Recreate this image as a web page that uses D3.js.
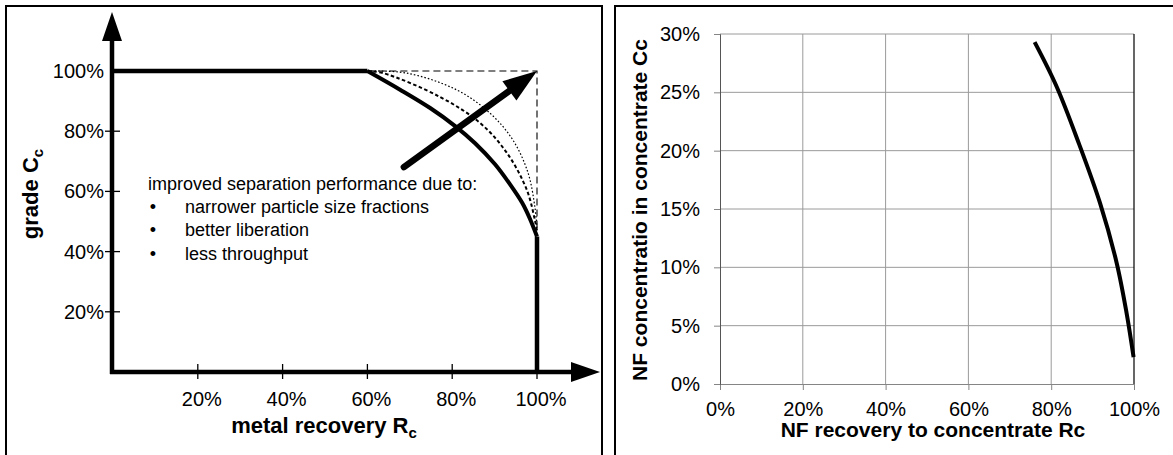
<!DOCTYPE html>
<html>
<head>
<meta charset="utf-8">
<script src="https://cdn.jsdelivr.net/npm/d3@7/dist/d3.min.js"></script>
<style>
  html, body { margin: 0; padding: 0; background: #fff; }
  svg { display: block; font-family: "Liberation Sans", Arial, sans-serif; }
</style>
</head>
<body>
<svg id="chart" width="1173" height="455"></svg>
<script>
// ---- Left panel: schematic grade–recovery curve ----
const gradeTicks = [0.2, 0.4, 0.6, 0.8, 1.0];
const recoveryTicks = [0.2, 0.4, 0.6, 0.8, 1.0];

// current separation frontier (solid)
const frontierRc = [0.60, 0.677, 0.748, 0.807, 0.854, 0.901, 0.936, 0.965, 0.983, 1.0];
const frontierCc = [1.00, 0.938, 0.877, 0.817, 0.760, 0.690, 0.624, 0.562, 0.510, 0.45];
// improved frontier, first step (dashed)
const improvedARc = [0.60, 0.637, 0.771, 0.866, 0.929, 0.976, 0.995, 1.0];
const improvedACc = [1.00, 0.993, 0.914, 0.827, 0.728, 0.605, 0.505, 0.47];
// improved frontier, second step (dotted)
const improvedBRc = [0.60, 0.693, 0.811, 0.889, 0.943, 0.979, 0.995, 1.0];
const improvedBCc = [1.00, 0.993, 0.937, 0.860, 0.771, 0.661, 0.548, 0.48];
// ideal separation corner (dashed box)
const idealRc = [0.60, 1.0, 1.0];
const idealCc = [1.00, 1.0, 0.47];
// direction of improvement arrow: tail, tip
const arrowRc = [0.686, 1.0];
const arrowCc = [0.681, 1.0];

const noteLines = ["narrower particle size fractions", "better liberation", "less throughput"];

// ---- Right panel: NF grade vs recovery ----
const nfRecovery = [0.760, 0.813, 0.867, 0.918, 0.958, 0.982, 0.999];
const nfConcentration = [0.293, 0.255, 0.206, 0.155, 0.104, 0.061, 0.023];
const nfXTicks = [0, 0.2, 0.4, 0.6, 0.8, 1.0];
const nfYTicks = [0, 0.05, 0.10, 0.15, 0.20, 0.25, 0.30];

const svg = d3.select("#chart");
const pct = d3.format(".0%");
const zip = (a, b) => a.map((v, i) => [v, b[i]]);

// panel frames
svg.append("rect").attr("x", 6).attr("y", 6).attr("width", 596).attr("height", 470)
  .attr("fill", "none").attr("stroke", "#000").attr("stroke-width", 2);
svg.append("rect").attr("x", 615).attr("y", 6).attr("width", 580).attr("height", 470)
  .attr("fill", "none").attr("stroke", "#000").attr("stroke-width", 2);

// ================= LEFT PANEL =================
const xL = d3.scaleLinear().domain([0, 1]).range([113, 537]);
const yL = d3.scaleLinear().domain([0, 1]).range([372, 71]);
const L = svg.append("g");

// tick marks crossing the axes
L.selectAll("line.ytick").data(gradeTicks.filter(d => d < 1)).join("line")
  .attr("x1", xL(0) - 8).attr("x2", xL(0) + 7)
  .attr("y1", d => yL(d)).attr("y2", d => yL(d))
  .attr("stroke", "#000").attr("stroke-width", 1.3);
L.selectAll("line.xtick").data(recoveryTicks).join("line")
  .attr("x1", d => xL(d)).attr("x2", d => xL(d))
  .attr("y1", yL(0) - 8).attr("y2", yL(0) + 7)
  .attr("stroke", "#000").attr("stroke-width", 1.3);

// tick labels
L.selectAll("text.ylab").data(gradeTicks).join("text")
  .attr("x", xL(0) - 9).attr("y", d => yL(d)).attr("dy", "0.35em")
  .attr("text-anchor", "end").attr("font-size", 20).text(d => pct(d));
L.selectAll("text.xlab").data(recoveryTicks).join("text")
  .attr("x", d => xL(d) + 4).attr("y", 406)
  .attr("text-anchor", "middle").attr("font-size", 20).text(d => pct(d));

// ideal corner (dashed box)
L.append("path")
  .attr("d", d3.line().x(d => xL(d[0])).y(d => yL(d[1]))(zip(idealRc, idealCc)))
  .attr("fill", "none").attr("stroke", "#000").attr("stroke-width", 1.1)
  .attr("stroke-dasharray", "7,4");

const curve = d3.line().x(d => xL(d[0])).y(d => yL(d[1])).curve(d3.curveCatmullRom.alpha(0.5));

L.append("path").attr("d", curve(zip(improvedBRc, improvedBCc)))
  .attr("fill", "none").attr("stroke", "#000").attr("stroke-width", 1.2)
  .attr("stroke-dasharray", "1.6,2");
L.append("path").attr("d", curve(zip(improvedARc, improvedACc)))
  .attr("fill", "none").attr("stroke", "#000").attr("stroke-width", 2)
  .attr("stroke-dasharray", "3.5,2.5");

// current frontier: plateau, curve, vertical drop
L.append("line").attr("x1", xL(0)).attr("x2", xL(frontierRc[0]))
  .attr("y1", yL(frontierCc[0])).attr("y2", yL(frontierCc[0]))
  .attr("stroke", "#000").attr("stroke-width", 4.5);
L.append("path").attr("d", curve(zip(frontierRc, frontierCc)))
  .attr("fill", "none").attr("stroke", "#000").attr("stroke-width", 4)
  .attr("stroke-linejoin", "round");
L.append("line")
  .attr("x1", xL(frontierRc[frontierRc.length - 1])).attr("x2", xL(frontierRc[frontierRc.length - 1]))
  .attr("y1", yL(frontierCc[frontierCc.length - 1])).attr("y2", yL(0))
  .attr("stroke", "#000").attr("stroke-width", 4.5);

// axes with arrow heads
L.append("line").attr("x1", xL(0) - 1).attr("x2", xL(0) - 1).attr("y1", yL(0) + 2).attr("y2", 30)
  .attr("stroke", "#000").attr("stroke-width", 4.5);
L.append("path").attr("d", `M${xL(0) - 1},12 L${xL(0) - 11},41 L${xL(0) + 9},41 Z`).attr("fill", "#000");
L.append("line").attr("x1", xL(0) - 3).attr("x2", 585).attr("y1", yL(0)).attr("y2", yL(0))
  .attr("stroke", "#000").attr("stroke-width", 4.5);
L.append("path").attr("d", `M600,${yL(0)} L571,${yL(0) - 10} L571,${yL(0) + 10} Z`).attr("fill", "#000");

// improvement arrow
{
  const x0 = xL(arrowRc[0]), y0 = yL(arrowCc[0]);
  const x1 = xL(arrowRc[1]), y1 = yL(arrowCc[1]);
  const len = Math.hypot(x1 - x0, y1 - y0);
  const ux = (x1 - x0) / len, uy = (y1 - y0) / len;
  const head = 34, half = 12;
  const bx = x1 - ux * head, by = y1 - uy * head;
  L.append("line").attr("x1", x0).attr("y1", y0).attr("x2", bx + ux * 2).attr("y2", by + uy * 2)
    .attr("stroke", "#000").attr("stroke-width", 6.5).attr("stroke-linecap", "round");
  L.append("path")
    .attr("d", `M${x1},${y1} L${bx - uy * half},${by + ux * half} L${bx + uy * half},${by - ux * half} Z`)
    .attr("fill", "#000");
}

// annotation
L.append("text").attr("x", 148).attr("y", 190).attr("font-size", 18)
  .text("improved separation performance due to:");
noteLines.forEach((t, i) => {
  L.append("text").attr("x", 153).attr("y", 213 + i * 23.3).attr("font-size", 18)
    .attr("text-anchor", "middle").text("•");
  L.append("text").attr("x", 185).attr("y", 213 + i * 23.3).attr("font-size", 18).text(t);
});

// axis titles
const xt = L.append("text").attr("x", 324).attr("y", 433).attr("text-anchor", "middle")
  .attr("font-size", 22).attr("font-weight", "bold");
xt.append("tspan").text("metal recovery R");
xt.append("tspan").attr("font-size", 15).attr("dy", 5).text("c");
const yt = L.append("text").attr("transform", "translate(38,194) rotate(-90)")
  .attr("text-anchor", "middle").attr("font-size", 22).attr("font-weight", "bold");
yt.append("tspan").text("grade C");
yt.append("tspan").attr("font-size", 15).attr("dy", 5).text("c");

// ================= RIGHT PANEL =================
const xR = d3.scaleLinear().domain([0, 1]).range([720, 1134]);
const yR = d3.scaleLinear().domain([0, 0.3]).range([384, 34]);
const R = svg.append("g");

// gridlines
R.selectAll("line.vg").data(nfXTicks.filter(d => d > 0 && d < 1)).join("line")
  .attr("x1", d => xR(d)).attr("x2", d => xR(d)).attr("y1", yR(0)).attr("y2", yR(0.3))
  .attr("stroke", "#9a9a9a").attr("stroke-width", 1);
R.selectAll("line.hg").data(nfYTicks.filter(d => d > 0)).join("line")
  .attr("x1", xR(0)).attr("x2", xR(1)).attr("y1", d => yR(d)).attr("y2", d => yR(d))
  .attr("stroke", "#9a9a9a").attr("stroke-width", 1);

// axes
const xAxis = R.append("g").attr("transform", `translate(0,${yR(0)})`)
  .call(d3.axisBottom(xR).tickValues(nfXTicks).tickFormat(pct).tickSize(6).tickPadding(12));
xAxis.select(".domain").attr("stroke", "#858585");
xAxis.selectAll(".tick line").attr("stroke", "#858585");
xAxis.selectAll(".tick text").attr("font-size", 20).attr("fill", "#000")
  .attr("font-family", "Liberation Sans, Arial, sans-serif");
const yAxis = R.append("g").attr("transform", `translate(${xR(0)},0)`)
  .call(d3.axisLeft(yR).tickValues(nfYTicks).tickFormat(pct).tickSize(6).tickPadding(14));
yAxis.select(".domain").attr("stroke", "#555");
yAxis.selectAll(".tick line").attr("stroke", "#858585");
yAxis.selectAll(".tick text").attr("font-size", 20).attr("fill", "#000")
  .attr("font-family", "Liberation Sans, Arial, sans-serif");

// right edge of plot area
R.append("line").attr("x1", xR(1)).attr("x2", xR(1)).attr("y1", yR(0.3)).attr("y2", yR(0))
  .attr("stroke", "#000").attr("stroke-width", 1.2);

// data curve
R.append("path")
  .attr("d", d3.line().x(d => xR(d[0])).y(d => yR(d[1])).curve(d3.curveCatmullRom.alpha(0.5))(zip(nfRecovery, nfConcentration)))
  .attr("fill", "none").attr("stroke", "#000").attr("stroke-width", 4);

// titles
R.append("text").attr("x", 933).attr("y", 437).attr("text-anchor", "middle")
  .attr("font-size", 21).attr("font-weight", "bold").text("NF recovery to concentrate Rc");
R.append("text").attr("transform", "translate(647,210) rotate(-90)").attr("text-anchor", "middle")
  .attr("font-size", 21).attr("font-weight", "bold").text("NF concentratio in concentrate Cc");
</script>
</body>
</html>
